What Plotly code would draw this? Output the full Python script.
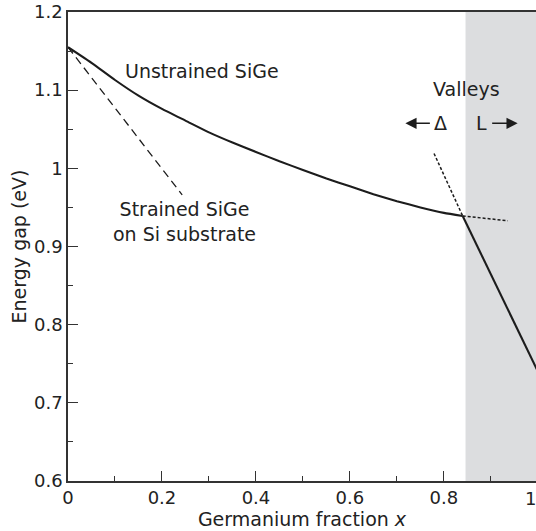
import plotly.graph_objects as go

# ---- data ----
unstrained_x = [0.0, 0.05, 0.1, 0.15, 0.2, 0.25, 0.3, 0.35, 0.4, 0.45, 0.5, 0.55, 0.6, 0.65, 0.7, 0.75, 0.8, 0.84]
unstrained_y = [1.155, 1.135, 1.113, 1.093, 1.076, 1.061, 1.046, 1.033, 1.021, 1.009, 0.998, 0.987, 0.977, 0.967, 0.958, 0.950, 0.943, 0.939]

l_valley_x = [0.84, 1.0]
l_valley_y = [0.939, 0.740]

delta_ext_x = [0.84, 0.936]
delta_ext_y = [0.939, 0.933]

l_ext_x = [0.779, 0.84]
l_ext_y = [1.019, 0.939]

strained_x = [0.0, 0.243]
strained_y = [1.155, 0.966]

shade_start = 0.846

x_ticks = [0, 0.2, 0.4, 0.6, 0.8, 1.0]
x_ticktext = ["0", "0.2", "0.4", "0.6", "0.8", "1"]
y_ticks = [0.6, 0.7, 0.8, 0.9, 1.0, 1.1, 1.2]
y_ticktext = ["0.6", "0.7", "0.8", "0.9", "1", "1.1", "1.2"]

X_MAX = 0.996
FONT = "DejaVu Sans"
TXT = "#222222"
LINE = "#1c1c1c"

fig = go.Figure()

fig.add_shape(type="rect", xref="x", yref="y", x0=shade_start, x1=1.05, y0=0.6, y1=1.2,
              fillcolor="#dcdddf", line_width=0, layer="below")

fig.add_trace(go.Scatter(x=unstrained_x, y=unstrained_y, mode="lines",
                         line=dict(color=LINE, width=2.1, shape="spline", smoothing=0.5)))
fig.add_trace(go.Scatter(x=l_valley_x, y=l_valley_y, mode="lines",
                         line=dict(color=LINE, width=2.1)))
fig.add_trace(go.Scatter(x=strained_x, y=strained_y, mode="lines",
                         line=dict(color=LINE, width=1.3, dash="8px,5px")))
fig.add_trace(go.Scatter(x=delta_ext_x, y=delta_ext_y, mode="lines",
                         line=dict(color=LINE, width=1.5, dash="3px,2px")))
fig.add_trace(go.Scatter(x=l_ext_x, y=l_ext_y, mode="lines",
                         line=dict(color=LINE, width=1.5, dash="3px,2px")))

tf = dict(family=FONT, size=19, color=TXT)
ann = [
    dict(x=0.285, y=1.125, text="Unstrained SiGe", showarrow=False, font=tf),
    dict(x=0.248, y=0.932, text="Strained SiGe<br>on Si substrate", showarrow=False, font=tf),
    dict(x=0.849, y=1.102, text="Valleys", showarrow=False, font=tf),
    dict(x=0.793, y=1.0576, text="Δ", showarrow=False, font=tf),
    dict(x=0.879, y=1.0576, text="L", showarrow=False, font=tf),
    dict(x=0.718, y=1.0576, text="", showarrow=True, ax=26, ay=0, arrowhead=2,
         arrowsize=1.4, arrowwidth=1.6, arrowcolor=LINE),
    dict(x=0.957, y=1.0576, text="", showarrow=True, ax=-27, ay=0, arrowhead=2,
         arrowsize=1.4, arrowwidth=1.6, arrowcolor=LINE),
    dict(x=1.0 / X_MAX, xref="paper", y=0, yref="paper", yanchor="top", yshift=-5,
         text="1", showarrow=False, font=dict(family=FONT, size=18, color=TXT)),
]
for a in ann:
    a.setdefault("xref", "x")
    a.setdefault("yref", "y")
    fig.add_annotation(**a)

fig.update_layout(
    width=536, height=531,
    margin=dict(l=68, r=0, t=12, b=50),
    plot_bgcolor="white", paper_bgcolor="white",
    showlegend=False,
    font=dict(family=FONT, size=18, color=TXT),
)
fig.update_xaxes(
    range=[0, X_MAX], tickvals=x_ticks, ticktext=x_ticktext,
    showgrid=False, zeroline=False,
    showline=True, linecolor="#333333", linewidth=1.5, mirror=True,
    ticks="inside", ticklen=10, tickwidth=1.3, tickcolor="#333333",
    minor=dict(tickmode="linear", tick0=0, dtick=0.1, ticks="inside", ticklen=5,
               tickwidth=1.3, tickcolor="#333333", showgrid=False),
    tickfont=dict(family=FONT, size=18, color=TXT),
    title=dict(text="Germanium fraction <i>x</i>", font=dict(family=FONT, size=19, color=TXT), standoff=4),
)
fig.update_yaxes(
    range=[0.6, 1.2], tickvals=y_ticks, ticktext=y_ticktext,
    showgrid=False, zeroline=False,
    showline=True, linecolor="#333333", linewidth=1.5, mirror=False,
    ticks="inside", ticklen=10, tickwidth=1.3, tickcolor="#333333",
    minor=dict(tickmode="linear", tick0=0.6, dtick=0.05, ticks="inside", ticklen=5,
               tickwidth=1.3, tickcolor="#333333", showgrid=False),
    tickfont=dict(family=FONT, size=18, color=TXT),
    title=dict(text="Energy gap (eV)", font=dict(family=FONT, size=19, color=TXT), standoff=2),
)

fig.write_html("out.html", config={"displayModeBar": False},
               post_script="document.body.style.margin='0';document.body.style.overflow='hidden';")
